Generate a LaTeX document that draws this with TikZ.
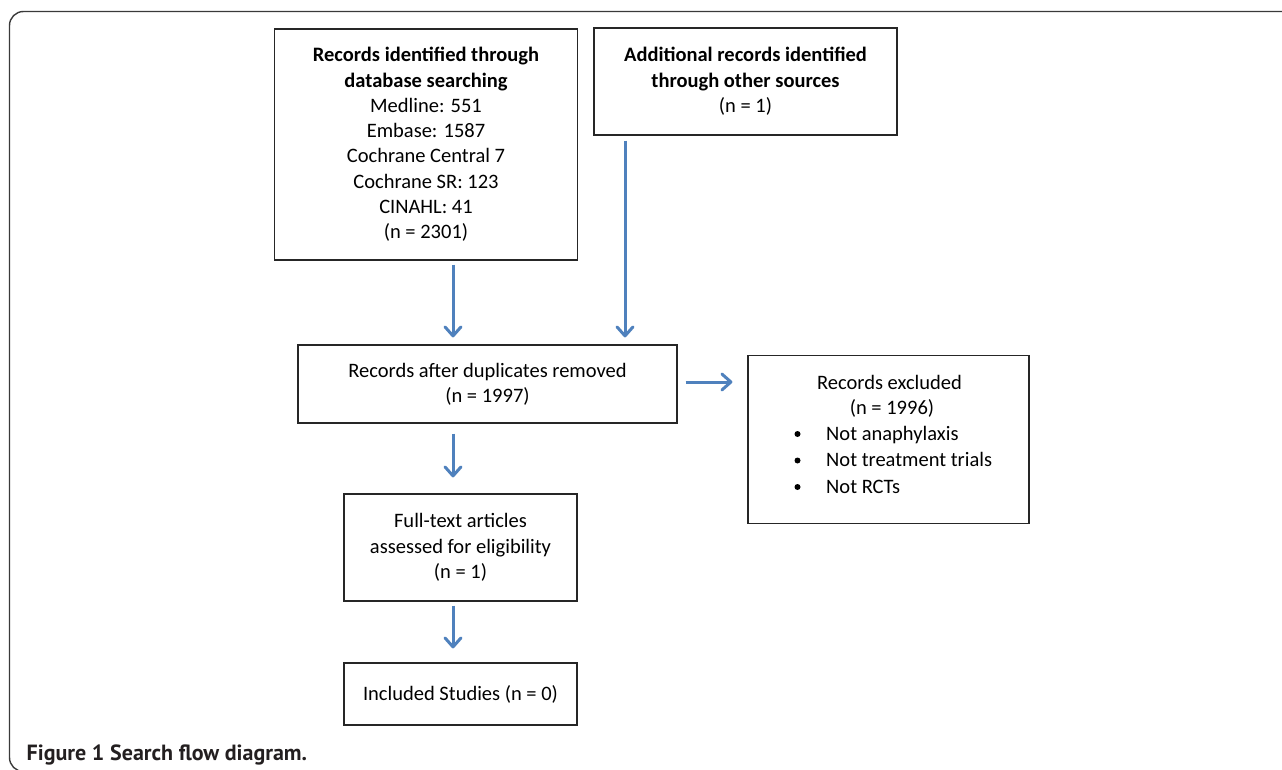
\documentclass[tikz,border=0pt]{standalone}
\usepackage{fontspec}
\setmainfont{Carlito}
\newfontfamily\capfont{PT Sans}
\usetikzlibrary{arrows.meta}
\definecolor{arrowblue}{HTML}{4F81BD}
\definecolor{framegray}{HTML}{3A3A3A}
\definecolor{capgray}{HTML}{231F20}
\tikzset{
  box/.style={draw=black!85, line width=1.2pt, inner sep=0pt, align=center,
    font=\fontsize{20.5}{25.3}\selectfont},
  arr/.style={draw=arrowblue, line width=3pt,
    -{Straight Barb[length=9pt,width=16pt,line cap=round,line join=round]}},
  lbl/.style={inner sep=0pt, font=\fontsize{20.5}{25}\selectfont, anchor=base},
}
\begin{document}
\begin{tikzpicture}[x=1pt,y=-1pt]
\useasboundingbox (0,0) rectangle (1282,770);
\begin{scope}
\clip (0,0) rectangle (1282,770);
\draw[framegray, line width=1.4pt, rounded corners=14pt] (9.5,11.5) rectangle (1320,771.5);
\end{scope}

\node[box, minimum width=303pt, minimum height=231pt] (A) at (426,144.5)
  {\textbf{Records identified through}\\\textbf{database searching}\\Medline: 551\\Embase: 1587\\Cochrane Central 7\\Cochrane SR: 123\\CINAHL: 41\\(n = 2301)};
\node[box, minimum width=303pt, minimum height=107pt] (B) at (745.5,81.5)
  {\textbf{Additional records identified}\\\textbf{through other sources}\\(n = 1)};
\node[box, minimum width=379pt, minimum height=78pt] (C) at (487.5,384)
  {Records after duplicates removed\\(n = 1997)};
\node[box, minimum width=281pt, minimum height=168pt] (D) at (888.5,439.5) {};
\node[lbl] (d0) at (889.5,389.5) {Records excluded};
\node[lbl] (dn) at (892,414.5) {(n = 1996)};
\node[lbl, anchor=base west] (d1) at (826,440) {Not anaphylaxis};
\node[lbl, anchor=base west] (d2) at (826,466.5) {Not treatment trials};
\node[lbl, anchor=base west] (d3) at (826,493) {Not RCTs};
\foreach \b in {d1,d2,d3} \fill[black] ([xshift=-28.5pt,yshift=6pt]\b.base west) circle (3pt);
\node[box, minimum width=233pt, minimum height=107pt] (E) at (460.5,547.5)
  {Full-text articles\\assessed for eligibility\\(n = 1)};
\node[box, minimum width=233pt, minimum height=62pt] (F) at (460.5,694)
  {Included Studies (n = 0)};

\coordinate (xa) at (453,0);
\coordinate (xb) at (625,0);
\coordinate (yc) at (0,382);

\draw[arr, shorten <=4pt, shorten >=7pt] (A.south -| xa) -- (C.north -| xa);
\draw[arr, shorten <=5pt, shorten >=7pt] (B.south -| xb) -- (C.north -| xb);
\draw[arr, shorten <=8pt, shorten >=15pt] (C.east |- yc) -- (D.west |- yc);
\draw[arr, shorten <=10pt, shorten >=16pt] (C.south -| xa) -- (E.north -| xa);
\draw[arr, shorten <=4pt, shorten >=14pt] (E.south -| xa) -- (F.north -| xa);

\node[inner sep=0pt, anchor=base west, text=capgray, font=\capfont\fontsize{22}{26}\selectfont] (cap) at (26.5,760)
  {\textbf{Figure 1} \textbf{Search flow diagram.}};
\end{tikzpicture}
\end{document}
